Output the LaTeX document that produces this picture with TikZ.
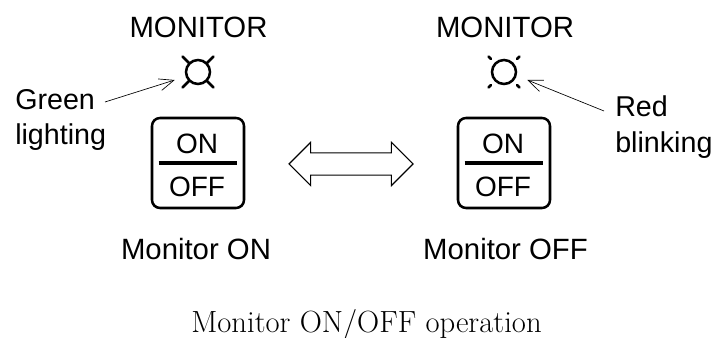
\documentclass[tikz,border=0pt]{standalone}
\usepackage{fontspec}
\setsansfont{Liberation Sans}
\usepackage{tikz}
\usetikzlibrary{arrows.meta}
\usetikzlibrary{calc}
\usetikzlibrary{positioning}
\usetikzlibrary{shapes,shapes.arrows}
\tikzset{btn/.style={draw,rectangle,rounded corners=6pt,line width=1.9pt,minimum width=69pt,minimum height=67.5pt,inner sep=0pt}}
\tikzset{lamp/.style={draw,circle,line width=1.9pt,minimum size=18pt,inner sep=0pt}}
\tikzset{ray/.style={line width=1.9pt,line cap=round}}
\tikzset{lbl/.style={font=\sffamily\fontsize{21.5}{25}\selectfont,inner sep=0pt,anchor=base}}
\tikzset{big/.style={lbl,font=\sffamily\fontsize{22}{26}\selectfont}}
\tikzset{note/.style={-{Straight Barb[length=11pt,width=9pt]},line width=.5pt}}
\begin{document}
\begin{tikzpicture}[x=.75pt,y=.75pt,node distance=229.5pt]
   \useasboundingbox (0,0) rectangle (714,338);

   \node[btn] (BtnOn) at (198,175) {};
   \node[btn] (BtnOff) [right of=BtnOn] {};
   \node[lamp] (LampOn) at (198,266) {};
   \node[lamp] (LampOff) [right of=LampOn] {};

   \node[big] (MonOn) at (198.5,300) {MONITOR};
   \node[big] (MonOff) at (505,300) {MONITOR};
   \node[big] (NameOn) at (196,78) {Monitor ON};
   \node[big] (NameOff) at (505.5,78) {Monitor OFF};

   \node[lbl,anchor=base west] (Green) at (15,228) {Green};
   \node[lbl,anchor=base west] (Lighting) at (15,193) {lighting};
   \node[lbl,anchor=base west] (Red) at (615,221) {Red};
   \node[lbl,anchor=base west] (Blinking) at (615,185) {blinking};

   % button faces
   \foreach \b in {BtnOn,BtnOff} {
      \draw[line width=2.8pt,shorten <=6pt,shorten >=6pt] (\b.west) -- (\b.east);
      \node[lbl,font=\sffamily\fontsize{21}{25}\selectfont] (\b Top) at ($(\b)+(-1,9)$) {ON};
      \node[lbl,font=\sffamily\fontsize{21}{25}\selectfont] (\b Bot) at ($(\b)+(-1,-34)$) {OFF};
   }

   % lamp rays
   \foreach \a in {45,135,225,315} {
      \draw[ray] ($(LampOn)+(\a:12)$) -- ($(LampOn)+(\a:22)$);
      \draw[ray] ($(LampOff)+(\a:18.5)$) -- ($(LampOff)+(\a:22)$);
   }

   \coordinate (GreenEnd) at (105,236);
   \coordinate (RedEnd) at (604,227);
   \draw[note] (GreenEnd) -- ($(LampOn.west)+(-10,-8)$);
   \draw[note] (RedEnd) -- ($(LampOff.east)+(10,-8)$);

   \node[draw,double arrow,line width=.8pt,minimum height=93pt,text width=0pt,text height=0pt,text depth=0pt,
         inner xsep=0pt,inner ysep=7.9pt,double arrow head extend=7.9pt,double arrow tip angle=90,double arrow head indent=0pt]
         (Swap) at (351,174) {};

   \node[font=\fontsize{23}{27}\selectfont,inner sep=0pt,anchor=base] (Caption) at (366.5,5) {Monitor ON/OFF operation};
\end{tikzpicture}
\end{document}
